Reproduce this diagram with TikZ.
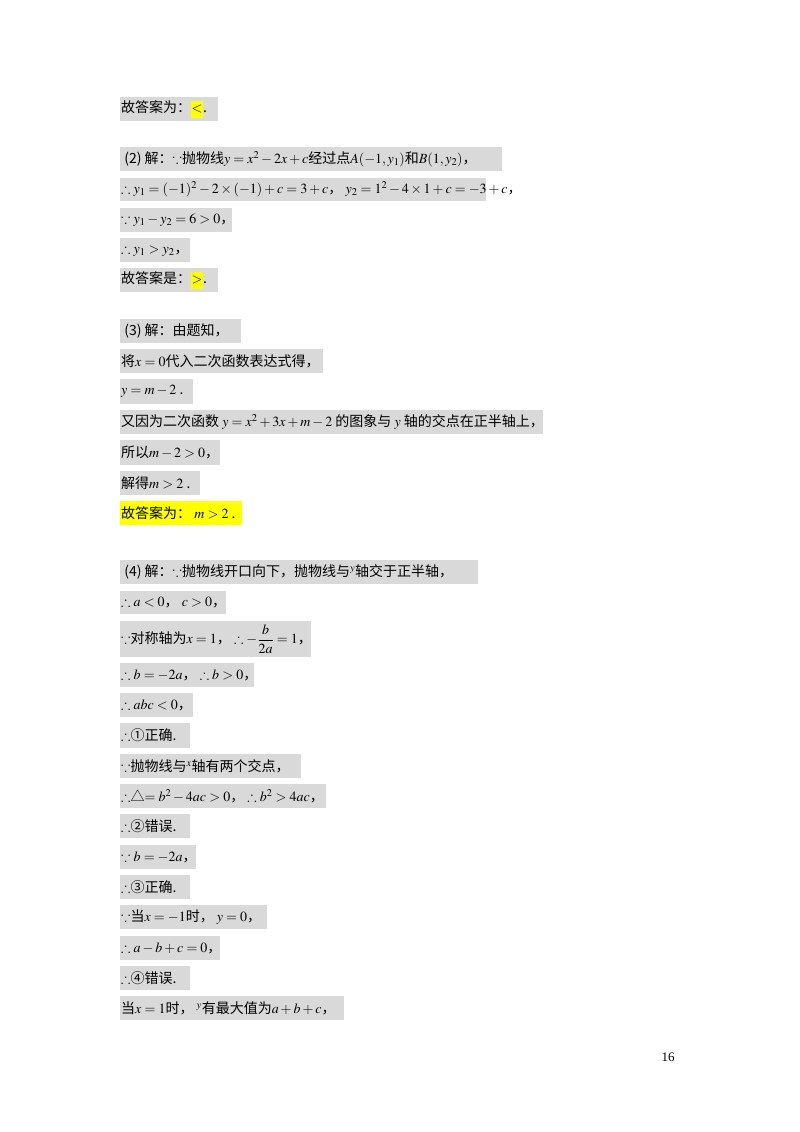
\documentclass[tikz,border=0pt]{standalone}
\usepackage{amssymb}
\usepackage{mathptmx}
\usepackage{fontspec}
\setmainfont{Liberation Serif}
\newfontfamily\cjk{Noto Sans CJK SC}
\definecolor{hlgray}{RGB}{217,217,217}
\definecolor{hlyel}{RGB}{255,255,0}
\newcommand\yb[1]{{\setlength\fboxsep{0.5pt}\colorbox{hlyel}{\strut #1}}}
\newcommand\hlrow[6]{\fill[#6] (120,#2) rectangle (#4,#3);
  \node[txt] (#1) at (120,{(#2+#3)/2}) {#5};}
\begin{document}
\begin{tikzpicture}[x=1pt,y=-1pt,
  txt/.style={anchor=west,inner sep=1pt,font=\fontsize{14}{16}\selectfont\cjk}]
\useasboundingbox (0,0) rectangle (800,1132);
\hlrow{r1}{97}{121}{218}{故答案为：\yb{$<$}.}{hlgray}
\hlrow{r2}{147}{171}{502}{~(2) 解：$\because$抛物线$y=x^2-2x+c$经过点$A(-1,y_1)$和$B(1,y_2)$，}{hlgray}
\hlrow{r3}{178}{201}{486}{$\therefore y_1=(-1)^2-2\times(-1)+c=3+c$，\ $y_2=1^2-4\times1+c=-3+c$，}{hlgray}
\hlrow{r4}{208}{232}{232}{$\because y_1-y_2=6>0$，}{hlgray}
\hlrow{r5}{238}{262}{190}{$\therefore y_1>y_2$，}{hlgray}
\hlrow{r6}{268}{292}{218}{故答案是：\yb{$>$}.}{hlgray}
\hlrow{r7}{319}{343}{241}{~(3) 解：由题知，}{hlgray}
\hlrow{r8}{349}{373}{323}{将$x=0$代入二次函数表达式得，}{hlgray}
\hlrow{r9}{379}{404}{193}{$y=m-2$ .}{hlgray}
\hlrow{r10}{410}{434}{543}{又因为二次函数 $y=x^2+3x+m-2$ 的图象与 $y$ 轴的交点在正半轴上，}{hlgray}
\hlrow{r11}{440}{465}{220}{所以$m-2>0$，}{hlgray}
\hlrow{r12}{471}{495}{200}{解得$m>2$ .}{hlgray}
\hlrow{r13}{501}{525}{242}{故答案为：\ $m>2$ .}{hlyel}
\hlrow{r14}{560}{584}{478}{~(4) 解：$\because$抛物线开口向下，抛物线与$^y$轴交于正半轴，}{hlgray}
\hlrow{r15}{591}{614}{226}{$\therefore a<0$，\ $c>0$，}{hlgray}
\hlrow{r16}{621}{657}{311}{$\because$对称轴为$x=1$，\ $\therefore -\displaystyle\frac{b}{2a}=1$，}{hlgray}
\hlrow{r17}{663}{687}{254}{$\therefore b=-2a$，\ $\therefore b>0$，}{hlgray}
\hlrow{r18}{693}{717}{193}{$\therefore abc<0$，}{hlgray}
\hlrow{r19}{723}{748}{190}{$\therefore$①正确.}{hlgray}
\hlrow{r20}{754}{778}{301}{$\because$抛物线与$^x$轴有两个交点，}{hlgray}
\hlrow{r21}{784}{808}{326}{$\therefore$△$=b^2-4ac>0$，\ $\therefore b^2>4ac$，}{hlgray}
\hlrow{r22}{814}{838}{190}{$\therefore$②错误.}{hlgray}
\hlrow{r23}{845}{869}{196}{$\because b=-2a$，}{hlgray}
\hlrow{r24}{875}{899}{190}{$\therefore$③正确.}{hlgray}
\hlrow{r25}{905}{929}{267}{$\because$当$x=-1$时，\ $y=0$，}{hlgray}
\hlrow{r26}{936}{960}{220}{$\therefore a-b+c=0$，}{hlgray}
\hlrow{r27}{966}{990}{190}{$\therefore$④错误.}{hlgray}
\hlrow{r28}{996}{1020}{344}{当$x=1$时，\ $^y$有最大值为$a+b+c$，}{hlgray}
\node[font=\fontsize{13}{15}\selectfont] (pg) at (668,1057) {16};
\end{tikzpicture}
\end{document}
